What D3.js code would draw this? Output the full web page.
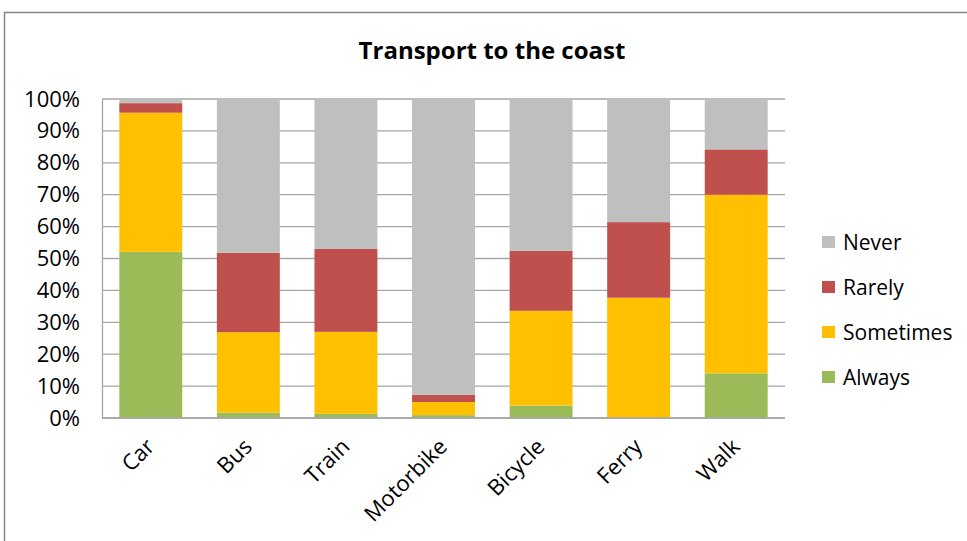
<!DOCTYPE html>
<html>
<head>
<meta charset="utf-8">
<script src="https://cdn.jsdelivr.net/npm/d3@7"></script>
<style>
  html, body { margin: 0; padding: 0; background: #fff; }
  svg { display: block; font-family: "Open Sans", Lato, sans-serif; }
</style>
</head>
<body>
<svg id="chart" width="967" height="541"></svg>
<script>
// Share of respondents (%) by mode of transport
const categories = ["Car", "Bus", "Train", "Motorbike", "Bicycle", "Ferry", "Walk"];
const seriesNames = ["Always", "Sometimes", "Rarely", "Never"];
const always    = [52.1, 1.7, 1.3, 0.9, 3.9, 0.0, 14.0];
const sometimes = [43.6, 25.2, 25.7, 4.1, 29.7, 37.7, 56.0];
const rarely    = [3.0, 24.9, 26.0, 2.3, 18.8, 23.7, 14.2];
const never     = [1.3, 48.2, 47.0, 92.7, 47.6, 38.6, 15.8];
const yTicks = [0, 10, 20, 30, 40, 50, 60, 70, 80, 90, 100];
const colors = ["#9BBB59", "#FFC000", "#C0504D", "#BFBFBF"];

const rows = categories.map((c, i) => ({
  cat: c, Always: always[i], Sometimes: sometimes[i], Rarely: rarely[i], Never: never[i]
}));

const svg = d3.select("#chart");
const plot = { left: 102, right: 785, top: 99, bottom: 418 };

// outer chart frame (right and bottom edges run off the canvas)
svg.append("rect")
  .attr("x", 4.5).attr("y", 12.5)
  .attr("width", 1000).attr("height", 600)
  .attr("fill", "none").attr("stroke", "#868686").attr("stroke-width", 1.5);

const x = d3.scaleBand().domain(categories)
  .range([plot.left, plot.right]).paddingInner(0.355).paddingOuter(0.1775);
const y = d3.scaleLinear().domain([0, 100]).range([plot.bottom, plot.top]);
const color = d3.scaleOrdinal().domain(seriesNames).range(colors);

// horizontal gridlines
svg.append("g").selectAll("line").data(yTicks).join("line")
  .attr("x1", plot.left).attr("x2", plot.right)
  .attr("y1", d => y(d)).attr("y2", d => y(d))
  .attr("stroke", "#A6A6A6").attr("stroke-width", 1.3);

// stacked bars
const stacked = d3.stack().keys(seriesNames)(rows);
svg.append("g").selectAll("g").data(stacked).join("g")
  .attr("fill", d => color(d.key))
  .selectAll("rect").data(d => d).join("rect")
  .attr("x", d => x(d.data.cat))
  .attr("width", x.bandwidth())
  .attr("y", d => y(d[1]))
  .attr("height", d => y(d[0]) - y(d[1]));

// y axis
const yAxis = svg.append("g")
  .attr("transform", `translate(${plot.left},0)`)
  .call(d3.axisLeft(y).tickValues(yTicks).tickFormat(d => d + "%").tickSize(0).tickPadding(22));
yAxis.select(".domain").attr("stroke", "#A6A6A6").attr("stroke-width", 1.3);
yAxis.selectAll("text").attr("font-size", 22).attr("fill", "#000")
  .attr("font-family", "'Open Sans', sans-serif");

// x axis baseline
svg.append("line")
  .attr("x1", plot.left).attr("x2", plot.right)
  .attr("y1", plot.bottom).attr("y2", plot.bottom)
  .attr("stroke", "#A6A6A6").attr("stroke-width", 1.3);

// rotated category labels
svg.append("g").selectAll("text").data(categories).join("text")
  .attr("transform", d => `translate(${x(d) + x.bandwidth() / 2 + 5},${plot.bottom + 30}) rotate(-45)`)
  .attr("text-anchor", "end")
  .attr("font-size", 22)
  .attr("fill", "#000")
  .text(d => d);

// title
svg.append("text")
  .attr("x", 492).attr("y", 59)
  .attr("text-anchor", "middle")
  .attr("font-size", 24).attr("font-weight", "bold")
  .attr("fill", "#000")
  .text("Transport to the coast");

// legend (reverse order: Never on top)
const legendKeys = seriesNames.slice().reverse();
const legend = svg.append("g").selectAll("g").data(legendKeys).join("g")
  .attr("transform", (d, i) => `translate(822,${242 + i * 45})`);
legend.append("rect")
  .attr("x", 0).attr("y", -6).attr("width", 13).attr("height", 12)
  .attr("fill", d => color(d));
legend.append("text")
  .attr("x", 21).attr("y", 0).attr("dy", "0.36em")
  .attr("font-size", 21).attr("fill", "#000")
  .text(d => d);
</script>
</body>
</html>
